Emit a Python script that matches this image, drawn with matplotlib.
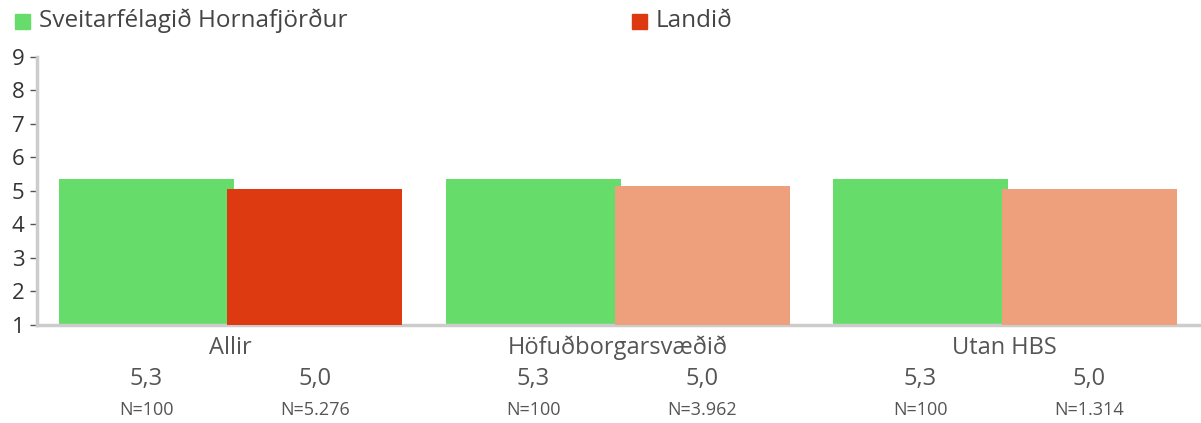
import numpy as np
import matplotlib.pyplot as plt
from matplotlib.patches import Rectangle
import matplotlib.transforms as mtransforms

plt.rcParams['font.family'] = ['Open Sans', 'DejaVu Sans']

# Gögn
flokkar = ['Allir', 'Höfuðborgarsvæðið', 'Utan HBS']
hornafjordur = np.array([5.35, 5.35, 5.35])
landid = np.array([5.05, 5.14, 5.05])
horn_merki = ['5,3', '5,3', '5,3']
land_merki = ['5,0', '5,0', '5,0']
horn_n = ['N=100', 'N=100', 'N=100']
land_n = ['N=5.276', 'N=3.962', 'N=1.314']

graenn = '#66dc6a'
raudur = '#dd3a12'
ljosraudur = '#eea07d'

fig = plt.figure(figsize=(12.01, 4.23), dpi=100)
ax = fig.add_axes([0.0308, 0.2317, 0.9692, 0.6336])

x = np.arange(len(flokkar))
breidd = 0.452
hlidrun = 0.218
ax.bar(x - hlidrun, hornafjordur, breidd, color=graenn, zorder=2)
land_litir = [raudur, ljosraudur, ljosraudur]
ax.bar(x + hlidrun, landid, breidd, color=land_litir, zorder=3)

ax.set_xlim(-0.5, 2.507)
ax.set_ylim(1, 9)
ax.set_yticks(range(1, 10))
ax.set_xticks([])

for s in ['top', 'right']:
    ax.spines[s].set_visible(False)
for s in ['left', 'bottom']:
    ax.spines[s].set_color('#cccccc')
    ax.spines[s].set_linewidth(2.5)
ax.tick_params(axis='y', length=5, width=1, color='#555555', pad=4,
               labelsize=16, labelcolor='#333333')

trans = mtransforms.blended_transform_factory(ax.transData, ax.transAxes)
for i, f in enumerate(flokkar):
    ax.text(x[i], -0.085, f, transform=trans, ha='center', va='center',
            fontsize=17, color='#555555')
    ax.text(x[i] - hlidrun, -0.2, horn_merki[i], transform=trans,
            ha='center', va='center', fontsize=17, color='#555555')
    ax.text(x[i] + hlidrun, -0.2, land_merki[i], transform=trans,
            ha='center', va='center', fontsize=17, color='#555555')
    ax.text(x[i] - hlidrun, -0.317, horn_n[i], transform=trans,
            ha='center', va='center', fontsize=13, color='#555555')
    ax.text(x[i] + hlidrun, -0.317, land_n[i], transform=trans,
            ha='center', va='center', fontsize=13, color='#555555')

# Skýringar
W, H = 1201, 423
for (px, litur, texti) in [(15, graenn, 'Sveitarfélagið Hornafjörður'),
                           (632, raudur, 'Landið')]:
    fig.add_artist(Rectangle((px / W, 1 - 29 / H), 15 / W, 15 / H,
                             transform=fig.transFigure, color=litur))
    fig.text((px + 24) / W, 1 - 21 / H, texti, ha='left', va='center',
             fontsize=17.5, color='#444444')

fig.savefig('out.png', dpi=100)
